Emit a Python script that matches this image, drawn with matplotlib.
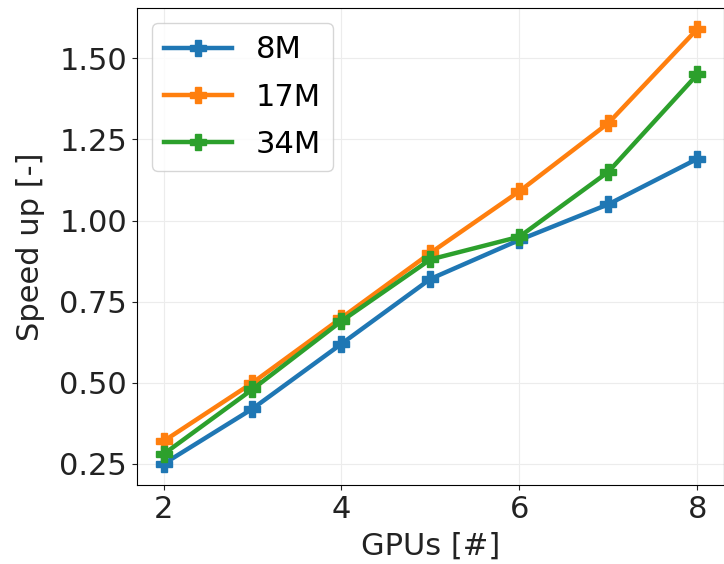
import matplotlib
matplotlib.use("Agg")
import matplotlib.pyplot as plt

# GPU counts and speed-up per mesh size
gpus = [2, 3, 4, 5, 6, 7, 8]
speedup_8m = [0.25, 0.42, 0.62, 0.82, 0.94, 1.05, 1.19]
speedup_17m = [0.32, 0.50, 0.70, 0.90, 1.09, 1.30, 1.59]
speedup_34m = [0.28, 0.48, 0.69, 0.88, 0.95, 1.15, 1.45]
labels = ["8M", "17M", "34M"]

fig = plt.figure(figsize=(7.24, 5.64), dpi=100)
ax = fig.add_axes([0.189, 0.140, 0.811, 0.846])

for vals, lab in zip([speedup_8m, speedup_17m, speedup_34m], labels):
    ax.plot(gpus, vals, marker="P", markersize=12, linewidth=3.2, label=lab)

ax.grid(True, color="#ececec", linewidth=0.8)
ax.set_axisbelow(True)
ax.set_xticks([2, 4, 6, 8])
ax.set_yticks([0.25, 0.50, 0.75, 1.00, 1.25, 1.50])
ax.set_xlim(1.7, 8.3)
ax.set_ylim(0.185, 1.655)
ax.tick_params(labelsize=22, colors="#222222")
ax.set_xlabel("GPUs [#]", fontsize=22, color="#222222", labelpad=6)
ax.set_ylabel("Speed up [-]", fontsize=22, color="#222222", labelpad=10)
ax.legend(loc="upper left", fontsize=22, handlelength=2.2, borderaxespad=0.5,
          labelspacing=0.6)

fig.savefig("out.png", dpi=100)
